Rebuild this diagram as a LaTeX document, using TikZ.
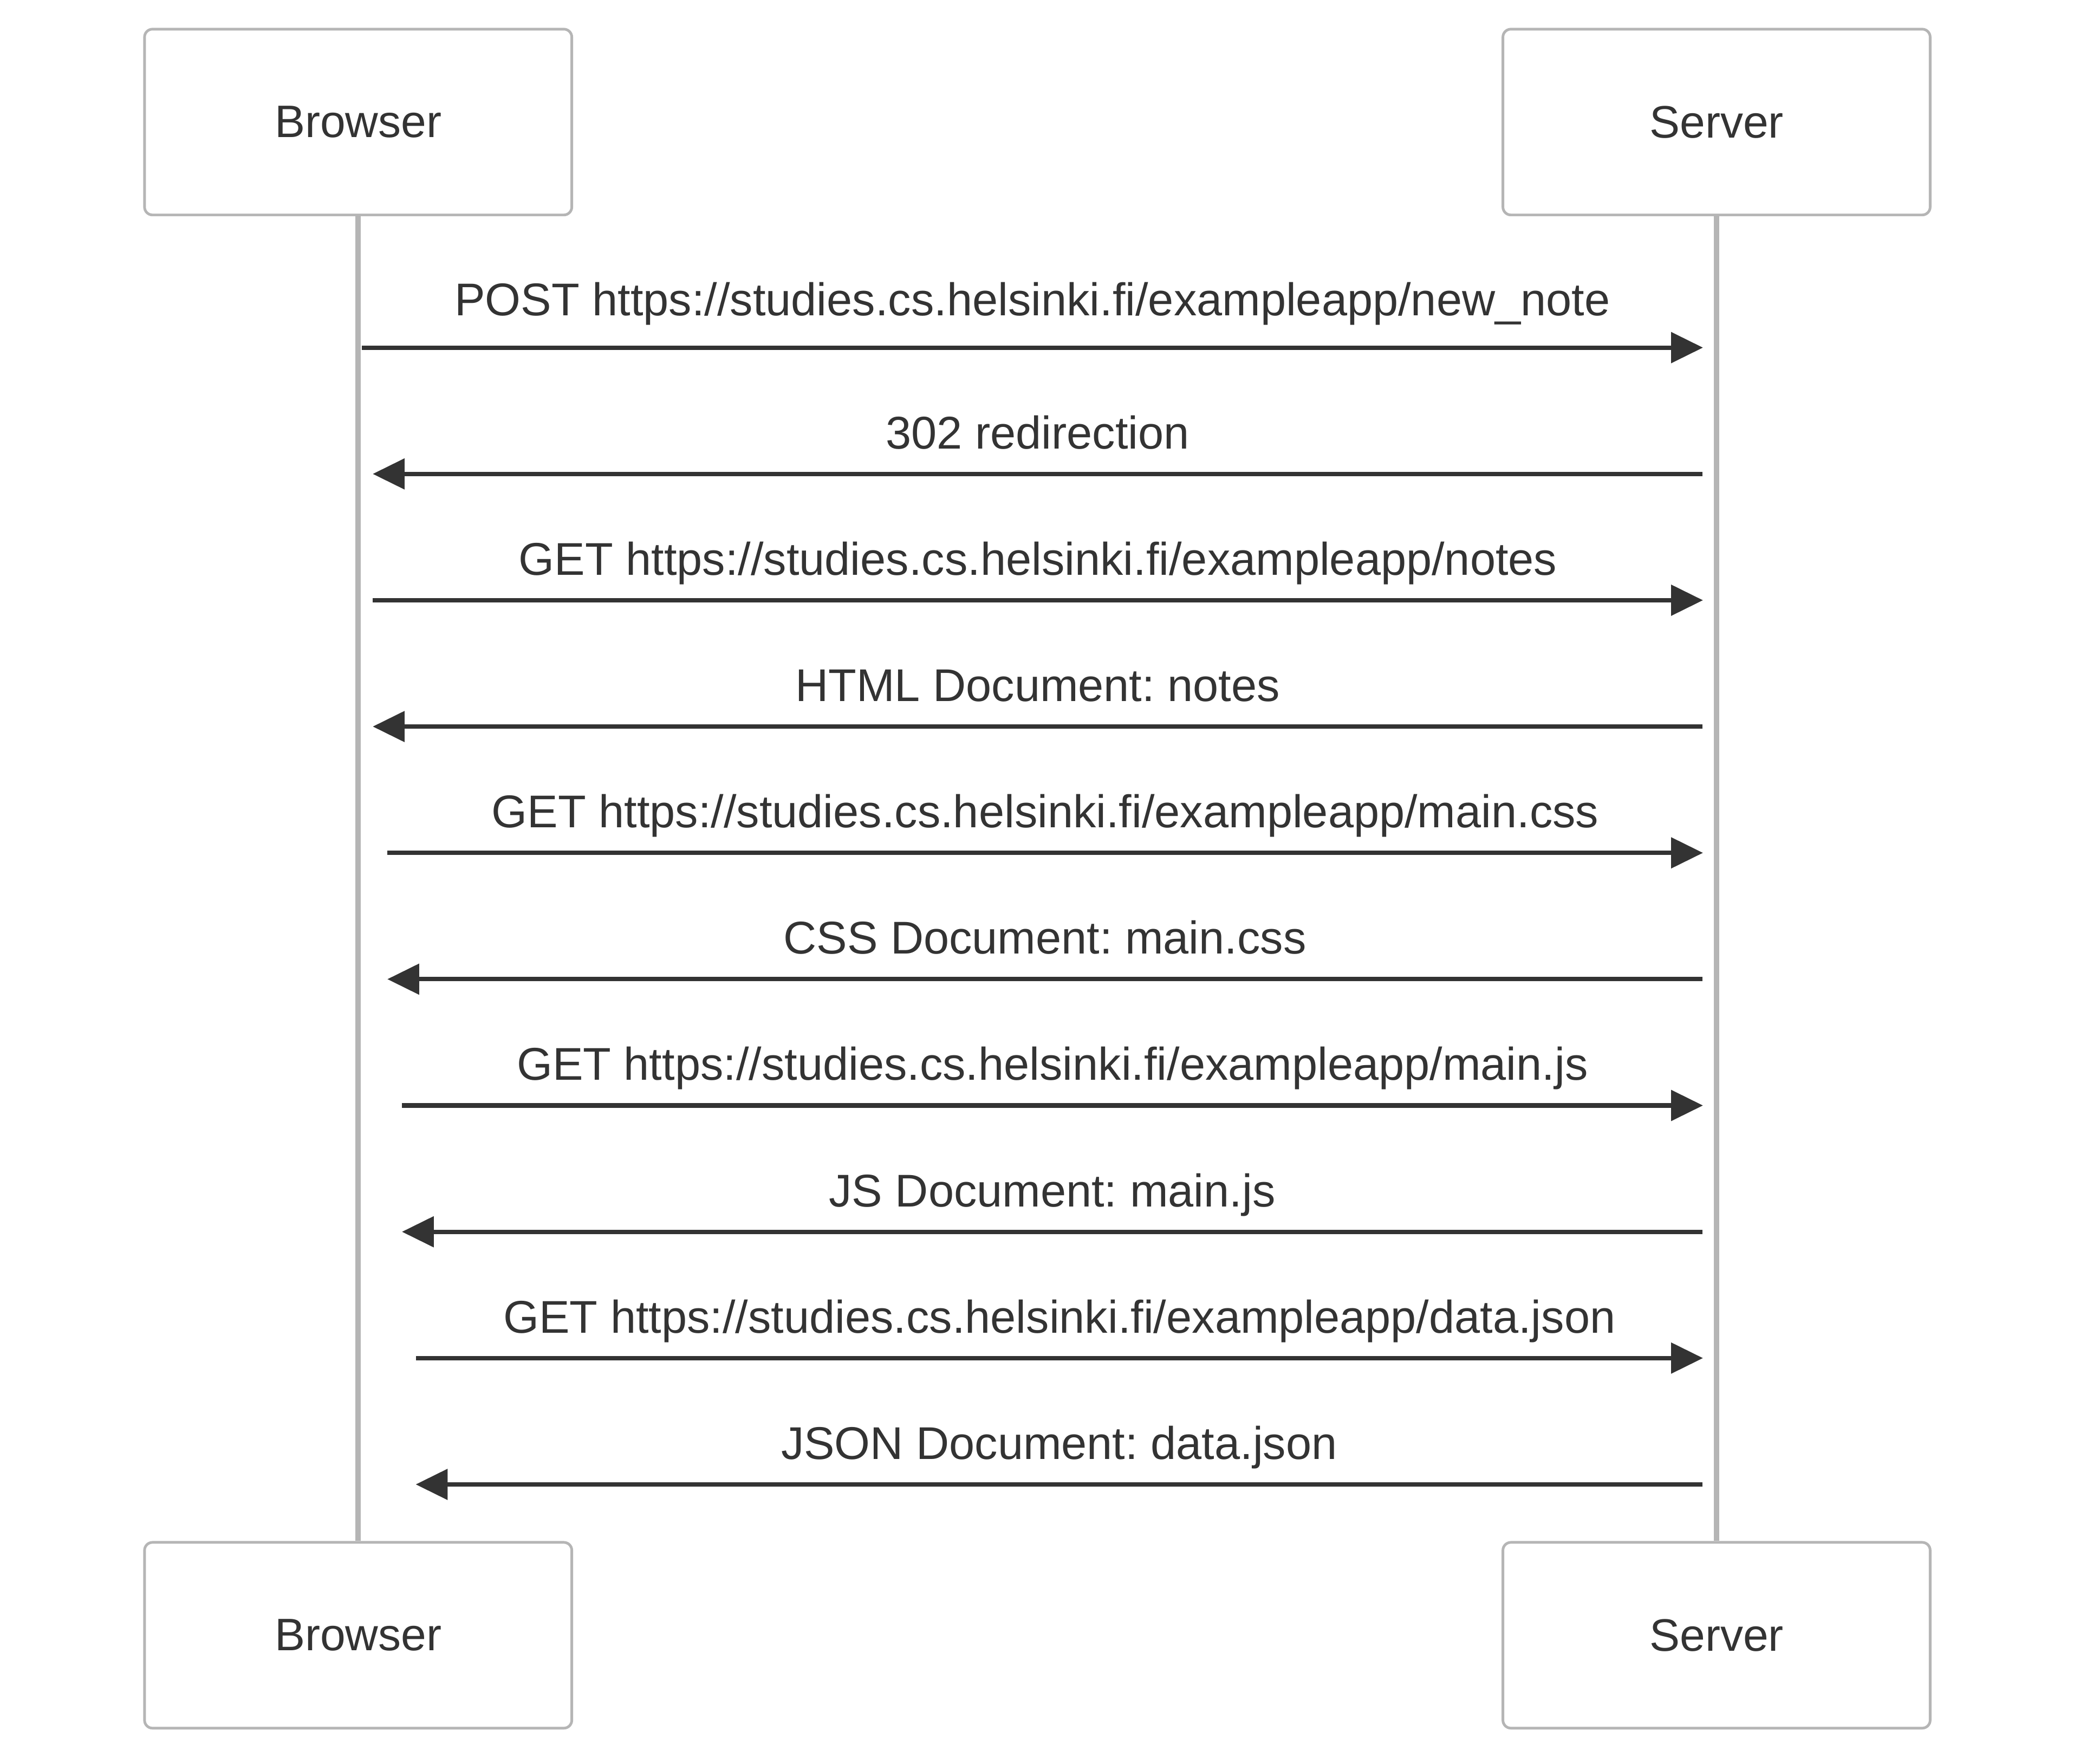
\documentclass[tikz,border=0pt]{standalone}
\usepackage{fontspec}
\setmainfont{Liberation Sans}
\usetikzlibrary{arrows.meta,calc}
\definecolor{txt}{HTML}{333333}
\definecolor{edge}{HTML}{B5B5B5}
\definecolor{msg}{HTML}{333333}
\tikzset{
  actorbox/.style={draw=edge, line width=0.05cm, fill=white, rounded corners=0.15cm,
    minimum width=8.05cm, minimum height=3.5cm, inner sep=0pt, text=txt,
    font=\fontsize{24.4}{28}\selectfont},
  lifeline/.style={draw=edge, line width=0.0975cm},
  msgline/.style={draw=msg, line width=0.082cm,
    -{Triangle[length=0.6cm, width=0.567cm]}},
  msglabel/.style={anchor=base, inner sep=0pt, text=txt,
    font=\fontsize{24.6}{28}\selectfont}
}
\frenchspacing
\begin{document}
\begin{tikzpicture}[x=0.025cm, y=-0.025cm]
\useasboundingbox (0,0) rectangle (1568,1329.5);
% actors
\node[actorbox] (bt) at (270,92) {Browser};
\node[actorbox] (st) at (1294,92) {Server};
\node[actorbox] (bb) at (270,1232.5) {Browser};
\node[actorbox] (sb) at (1294,1232.5) {Server};
% lifelines
\draw[lifeline] (bt.south) -- (bb.north);
\draw[lifeline] (st.south) -- (sb.north);
% message end points
\coordinate (a1) at (272.7,262);   \coordinate (b1) at (1283.8,262);
\coordinate (a2) at (1283.4,357.2); \coordinate (b2) at (281,357.2);
\coordinate (a3) at (281,452.4);   \coordinate (b3) at (1283.8,452.4);
\coordinate (a4) at (1283.4,547.6); \coordinate (b4) at (281,547.6);
\coordinate (a5) at (292,642.8);   \coordinate (b5) at (1283.8,642.8);
\coordinate (a6) at (1283.4,738); \coordinate (b6) at (292,738);
\coordinate (a7) at (303,833.2);   \coordinate (b7) at (1283.8,833.2);
\coordinate (a8) at (1283.4,928.4); \coordinate (b8) at (303,928.4);
\coordinate (a9) at (313.6,1023.6);   \coordinate (b9) at (1283.8,1023.6);
\coordinate (a10) at (1283.4,1118.8); \coordinate (b10) at (313.4,1118.8);
% messages
\draw[msgline] (a1) -- (b1);
\draw[msgline] (a2) -- (b2);
\draw[msgline] (a3) -- (b3);
\draw[msgline] (a4) -- (b4);
\draw[msgline] (a5) -- (b5);
\draw[msgline] (a6) -- (b6);
\draw[msgline] (a7) -- (b7);
\draw[msgline] (a8) -- (b8);
\draw[msgline] (a9) -- (b9);
\draw[msgline] (a10) -- (b10);
% labels
\node[msglabel] (l1) at ($(a1)!0.5!(b1)+(0,-24)$) {POST https://studies.cs.helsinki.fi/exampleapp/new\_note};
\node[msglabel] (l2) at ($(a2)!0.5!(b2)+(0,-19)$) {302 redirection};
\node[msglabel] (l3) at ($(a3)!0.5!(b3)+(0,-19)$) {GET https://studies.cs.helsinki.fi/exampleapp/notes};
\node[msglabel] (l4) at ($(a4)!0.5!(b4)+(0,-19)$) {HTML Document: notes};
\node[msglabel] (l5) at ($(a5)!0.5!(b5)+(0,-19)$) {GET https://studies.cs.helsinki.fi/exampleapp/main.css};
\node[msglabel] (l6) at ($(a6)!0.5!(b6)+(0,-19)$) {CSS Document: main.css};
\node[msglabel] (l7) at ($(a7)!0.5!(b7)+(0,-19)$) {GET https://studies.cs.helsinki.fi/exampleapp/main.js};
\node[msglabel] (l8) at ($(a8)!0.5!(b8)+(0,-19)$) {JS Document: main.js};
\node[msglabel] (l9) at ($(a9)!0.5!(b9)+(0,-19)$) {GET https://studies.cs.helsinki.fi/exampleapp/data.json};
\node[msglabel] (l10) at ($(a10)!0.5!(b10)+(0,-19)$) {JSON Document: data.json};
\end{tikzpicture}
\end{document}
